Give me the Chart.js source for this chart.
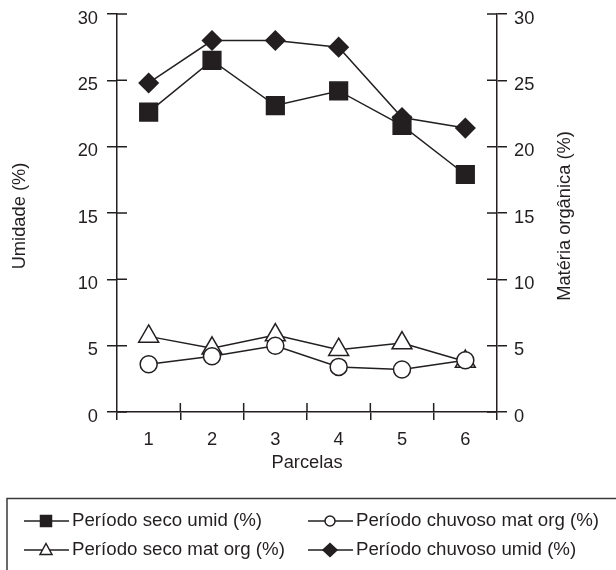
<!DOCTYPE html>
<html>
<head>
<meta charset="utf-8">
<script src="https://cdn.jsdelivr.net/npm/chart.js@4.4.0/dist/chart.umd.min.js"></script>
<style>
html, body { margin: 0; padding: 0; background: #fff; }
#caja { width: 616px; height: 570px; position: relative; }
</style>
</head>
<body>
<div id="caja"><canvas id="grafica"></canvas></div>
<script>
// Datos
const parcelas = ['1', '2', '3', '4', '5', '6'];
const seco_umid = [22.6, 26.5, 23.1, 24.2, 21.6, 17.9];
const chuvoso_mat_org = [3.6, 4.2, 5.0, 3.4, 3.2, 3.9];
const seco_mat_org = [5.7, 4.8, 5.8, 4.7, 5.2, 3.8];
const chuvoso_umid = [24.8, 28.0, 28.0, 27.5, 22.2, 21.4];
const etiquetas = ['Período seco umid (%)', 'Período chuvoso mat org (%)', 'Período seco mat org (%)', 'Período chuvoso umid (%)'];
const eje_min = 0, eje_max = 30, eje_paso = 5;

const negro = '#231f20';
const familia = '"Liberation Sans", Arial, sans-serif';
const fuente = { family: familia, size: 18.3 };

function serie(i, datos, eje, estilo, radio, relleno) {
	return {
		label: etiquetas[i],
		data: datos,
		yAxisID: eje,
		borderColor: negro,
		borderWidth: 1.5,
		pointStyle: estilo,
		pointRadius: radio,
		pointHoverRadius: radio,
		pointBackgroundColor: relleno,
		pointBorderColor: negro,
		pointBorderWidth: 1.5,
		tension: 0,
		fill: false
	};
}

// simbolo pequeno de la leyenda
function simbolo(ctx, estilo, x, y, relleno) {
	ctx.beginPath();
	if (estilo === 'rect') {
		ctx.rect(x - 5.5, y - 5.5, 11, 11);
	} else if (estilo === 'circle') {
		ctx.arc(x, y, 5, 0, Math.PI * 2);
	} else if (estilo === 'triangle') {
		ctx.moveTo(x, y - 6.5);
		ctx.lineTo(x + 6, y + 4.5);
		ctx.lineTo(x - 6, y + 4.5);
		ctx.closePath();
	} else if (estilo === 'rectRot') {
		ctx.moveTo(x, y - 6.5);
		ctx.lineTo(x + 7, y);
		ctx.lineTo(x, y + 6.5);
		ctx.lineTo(x - 7, y);
		ctx.closePath();
	}
	ctx.fillStyle = relleno;
	ctx.fill();
	ctx.stroke();
}

function texto_vertical(ctx, txt, x, y) {
	ctx.save();
	ctx.translate(x, y);
	ctx.rotate(-Math.PI / 2);
	ctx.fillText(txt, 0, 0);
	ctx.restore();
}

const extras = {
	id: 'extras',
	afterDraw(chart) {
		const ctx = chart.ctx;
		const area = chart.chartArea;
		const x = chart.scales.x, yi = chart.scales.y, yd = chart.scales.y2;
		ctx.save();
		ctx.strokeStyle = negro;
		ctx.lineWidth = 1.5;
		// parte interior de las marcas
		ctx.beginPath();
		yi.ticks.forEach(t => {
			const p = yi.getPixelForValue(t.value);
			ctx.moveTo(area.left, p); ctx.lineTo(area.left + 10, p);
		});
		yd.ticks.forEach(t => {
			const p = yd.getPixelForValue(t.value);
			ctx.moveTo(area.right, p); ctx.lineTo(area.right - 10, p);
		});
		for (let i = 1; i < parcelas.length; i++) {
			const p = (x.getPixelForValue(i - 1) + x.getPixelForValue(i)) / 2;
			ctx.moveTo(p, area.bottom); ctx.lineTo(p, area.bottom - 9);
		}
		ctx.stroke();

		// titulos de los ejes verticales
		ctx.fillStyle = negro;
		ctx.font = '18.3px ' + familia;
		ctx.textAlign = 'center';
		ctx.textBaseline = 'middle';
		texto_vertical(ctx, 'Umidade (%)', 20, 216);
		texto_vertical(ctx, 'Matéria orgânica (%)', 565, 216);

		// leyenda en recuadro
		ctx.strokeStyle = '#3a3a3a';
		ctx.beginPath();
		ctx.moveTo(7, 620); ctx.lineTo(7, 498.5); ctx.lineTo(620, 498.5);
		ctx.stroke();
		const cols = [24, 308];
		const filas = [521, 550];
		ctx.strokeStyle = negro;
		ctx.textAlign = 'left';
		ctx.font = '18.7px ' + familia;
		chart.data.datasets.forEach((d, i) => {
			const cx = cols[i % 2], cy = filas[Math.floor(i / 2)];
			ctx.beginPath();
			ctx.moveTo(cx, cy); ctx.lineTo(cx + 45, cy);
			ctx.stroke();
			simbolo(ctx, d.pointStyle, cx + 22, cy, d.pointBackgroundColor);
			ctx.fillStyle = negro;
			ctx.fillText(d.label, cx + 48, cy);
		});
		ctx.restore();
	}
};

function sin_relleno(s) {
	s.paddingTop = 0; s.paddingBottom = 0; s.paddingLeft = 0; s.paddingRight = 0;
}

new Chart(document.getElementById('grafica'), {
	type: 'line',
	data: {
		labels: parcelas,
		datasets: [
			serie(0, seco_umid, 'y', 'rect', 12.5, negro),
			serie(1, chuvoso_mat_org, 'y2', 'circle', 8.5, '#ffffff'),
			serie(2, seco_mat_org, 'y2', 'triangle', 11.5, '#ffffff'),
			serie(3, chuvoso_umid, 'y', 'rectRot', 9.5, negro)
		]
	},
	options: {
		responsive: true,
		maintainAspectRatio: false,
		animation: false,
		clip: false,
		layout: { padding: { top: 12, left: 0, right: 0, bottom: 0 } },
		plugins: { legend: { display: false }, tooltip: { enabled: false } },
		scales: {
			x: {
				offset: true,
				grid: { offset: true, drawOnChartArea: false, color: negro, lineWidth: 1.5, tickLength: 8 },
				border: { color: negro, width: 1.5 },
				ticks: { color: negro, font: fuente, padding: 9, maxRotation: 0 },
				title: { display: true, text: 'Parcelas', color: negro, font: fuente, padding: { top: 0, bottom: 96 } },
				afterFit: s => { s.height = 158; sin_relleno(s); }
			},
			y: {
				position: 'left',
				min: eje_min, max: eje_max,
				grid: { drawOnChartArea: false, color: negro, lineWidth: 1.5, tickLength: 10 },
				border: { color: negro, width: 1.5 },
				ticks: { stepSize: eje_paso, color: negro, font: fuente, padding: 9, labelOffset: 4.5 },
				afterFit: s => { s.width = 117; sin_relleno(s); }
			},
			y2: {
				position: 'right',
				min: eje_min, max: eje_max,
				grid: { drawOnChartArea: false, color: negro, lineWidth: 1.5, tickLength: 10 },
				border: { color: negro, width: 1.5 },
				ticks: { stepSize: eje_paso, color: negro, font: fuente, padding: 7, labelOffset: 4.5 },
				afterFit: s => { s.width = 119; sin_relleno(s); }
			}
		}
	},
	plugins: [extras]
});
</script>
</body>
</html>
